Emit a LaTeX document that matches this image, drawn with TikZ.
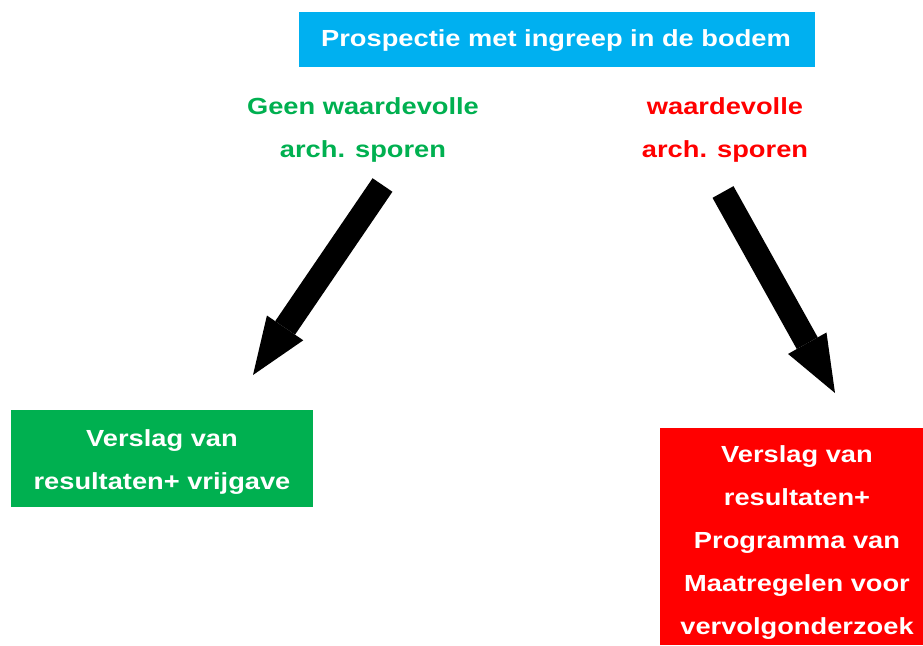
\documentclass[tikz,border=0pt]{standalone}
\usepackage{fontspec}
\usetikzlibrary{arrows.meta}
\newfontfamily\dfont{Liberation Sans}[FakeStretch=1.17]
\definecolor{skyblue}{HTML}{00B0F0}
\definecolor{okgreen}{HTML}{00B050}
\definecolor{alarmred}{HTML}{FF0000}
\tikzset{
  txt/.style={font=\dfont\bfseries\fontsize{23.3}{43}\selectfont, align=center, inner sep=0pt},
  box/.style={inner sep=0pt, anchor=center},
  bigarrow/.style={line width=24pt, draw=black,
    -{Triangle[width=44pt 0 0, length=57pt 0 0, line width=0pt]}},
}
\begin{document}
\begin{tikzpicture}[x=1pt,y=-1pt]
\useasboundingbox (0,0) rectangle (923,645);
\node[box, fill=skyblue, minimum width=516pt, minimum height=55pt] (top) at (557,39.5) {};
\node[txt, text=white] (toptxt) at (556,41) {Prospectie met ingreep in de bodem};
\node[txt, text=okgreen] (neg) at (363,130) {Geen waardevolle\\arch. sporen};
\node[txt, text=alarmred] (pos) at (725,130) {waardevolle\\arch. sporen};
\node[box, fill=okgreen, minimum width=302pt, minimum height=97pt] (vrij) at (162,458.5) {};
\node[txt, text=white] (vrijtxt) at (162,462) {Verslag van\\resultaten+ vrijgave};
\node[box, fill=alarmred, minimum width=263pt, minimum height=217pt] (pva) at (791.5,536.5) {};
\node[txt, text=white] (pvatxt) at (797,543) {Verslag van\\resultaten+\\Programma van\\Maatregelen voor\\vervolgonderzoek};
\coordinate (la) at (382.5,185);
\coordinate (lb) at (253,375);
\coordinate (ra) at (723,192);
\coordinate (rb) at (835,393);
\draw[bigarrow] (la) -- (lb);
\draw[bigarrow] (ra) -- (rb);
\end{tikzpicture}
\end{document}
